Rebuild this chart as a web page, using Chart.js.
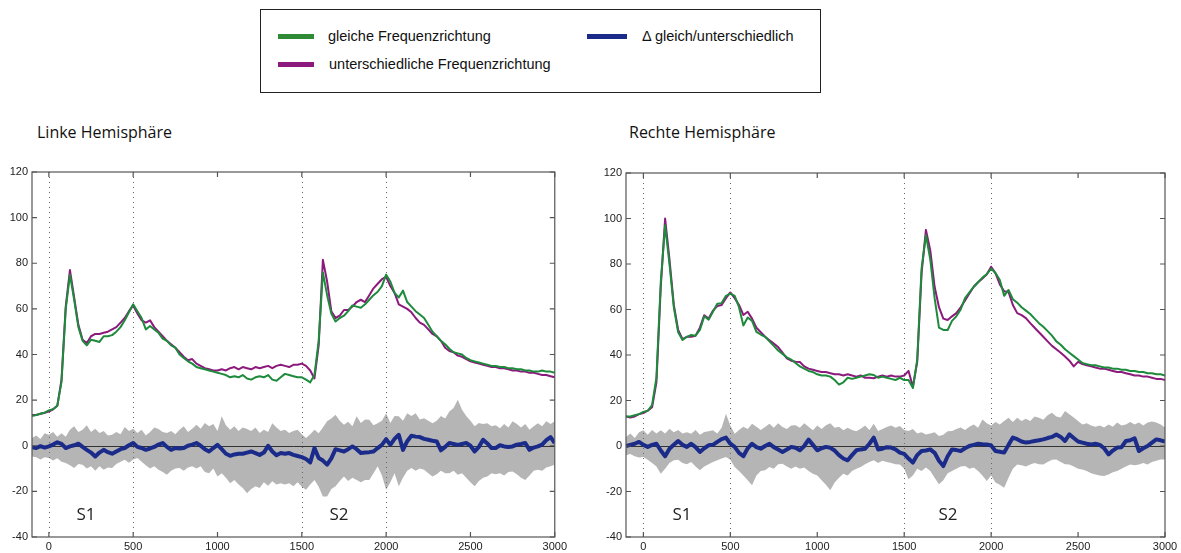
<!DOCTYPE html>
<html>
<head>
<meta charset="utf-8">
<script src="https://cdn.jsdelivr.net/npm/chart.js@4.4.0/dist/chart.umd.min.js"></script>
<style>
  body { margin: 0; background: #fff; width: 1181px; height: 553px; position: relative; overflow: hidden;
         font-family: "Liberation Sans", Arial, sans-serif; }
  #legend { position: absolute; left: 260px; top: 9px; width: 559px; height: 82px; border: 1.5px solid #222; }
  #legend .swatch { position: absolute; height: 4.5px; }
  #legend .label { position: absolute; font-size: 14.5px; line-height: 18px; color: #111; white-space: nowrap; }
  .title { position: absolute; top: 124px; font-family: "Open Sans", sans-serif; font-size: 16px; line-height: 16px; color: #111; }
  canvas { position: absolute; top: 160px; }
</style>
</head>
<body>
<div id="legend">
  <div class="swatch" style="left:17px; top:24px; width:36px; background:#2f8a35"></div>
  <div class="label" style="left:67px; top:17px">gleiche Frequenzrichtung</div>
  <div class="swatch" style="left:17px; top:52px; width:36px; background:#8c1a7c"></div>
  <div class="label" style="left:68px; top:45px">unterschiedliche Frequenzrichtung</div>
  <div class="swatch" style="left:326px; top:24px; width:40px; background:#1a2b8a"></div>
  <div class="label" style="left:381px; top:17px">Δ gleich/unterschiedlich</div>
</div>
<div class="title" style="left:37px">Linke Hemisphäre</div>
<div class="title" style="left:629px">Rechte Hemisphäre</div>
<canvas id="left" width="570" height="393" style="left:0px"></canvas>
<canvas id="right" width="591" height="393" style="left:590px"></canvas>
<script>
// sampling grid in ms (25 ms steps from -100 to 3000)
const times = [];
for (let t = -100; t <= 3000; t += 25) times.push(t);

const xTicks = [0, 500, 1000, 1500, 2000, 2500, 3000];
const yTicks = [-40, -20, 0, 20, 40, 60, 80, 100, 120];
const markerLines = [0, 500, 1500, 2000];
const stimNames = ['S1', 'S2'];
const leftStimX = [220, 1720];
const rightStimX = [222, 1752];
const stimY = -30.5;

// linke Hemisphäre
const leftSame = [
  13, 13.5, 14, 14.5, 15.5, 16, 17.5, 28, 60, 75,
  64, 52, 46, 44, 46.5, 46, 45.5, 48, 48, 48.5,
  50, 52, 55, 58.5, 62, 59, 56, 51, 52.5, 51,
  49.5, 47, 46, 44, 43, 40, 38.5, 37, 36, 34.5,
  34, 33.5, 33, 32.5, 32, 31.5, 31, 30, 30.5, 30,
  31, 29.5, 29, 30, 30.5, 30, 31, 29, 28.5, 30,
  31.5, 31, 30.5, 30, 30, 29, 27.8, 31, 46, 76,
  66, 58, 54.5, 56, 57, 59, 61.5, 61, 60.5, 62,
  64, 66, 67.5, 70, 75, 72, 67, 65, 68, 63,
  61, 59, 57.5, 56, 53, 50, 48, 46, 44.5, 42.5,
  41, 40.5, 40, 38.5, 37.5, 37, 36.5, 36, 35.5, 35,
  35, 34.5, 34.5, 34, 34, 33.5, 33.5, 33, 33, 32.5,
  32.5, 33, 32.5, 32.5, 32
];
const leftDiff = [
  13.5, 13.5, 14, 14.5, 15, 16, 17.5, 29, 61, 77,
  65, 53, 46.5, 45, 48, 49, 49, 49.5, 50, 51,
  52, 54, 56, 59, 61.5, 58, 55, 54, 55, 52,
  50, 48, 46, 44.5, 43, 41, 39, 37.5, 38, 36,
  35, 34, 33.5, 33, 33, 33.5, 33, 34, 34.5, 33.5,
  34.5, 34, 33.5, 34.5, 34, 34.5, 35, 34, 35, 35.5,
  35, 34.5, 35.5, 35.5, 36, 35, 33, 29.5, 44, 81.5,
  72, 59, 56, 57, 59.5, 59.5, 61, 63, 64, 63,
  66, 69, 71, 73, 74, 70, 67, 62, 61, 60,
  58.5, 56, 54, 53, 51, 49, 48, 46, 43, 41.5,
  41, 39.5, 39, 38, 37, 36.5, 36, 35.5, 35, 34.5,
  34.5, 34, 34, 33.5, 33, 33, 32.5, 32.5, 32, 32,
  31.5, 31, 31, 30.5, 30
];
const leftDelta = [
  -0.7, -1, -0.2, -0.8, -0.3, 0.5, 1.5, 0.8, -1, -0.3,
  0.2, 0.9, -0.5, -1.8, -3, -4.7, -3, -1.8, -2.8, -3.5,
  -2.5, -1.5, -1, 0.2, 1.2, -0.5, -1, -1.8, -1.2, -0.5,
  0.5, 1.2, -0.5, -1.8, -1, -1.2, -1, 0, 0.5, 1.2,
  0, -1.5, -2.5, -1, 0.4, -1.5, -3.5, -4.4, -3.8, -3.5,
  -3.5, -3, -2.5, -3.2, -4, -3, 0, -2.5, -4.2, -3.2,
  -3.5, -3.2, -4, -4.5, -5, -5.8, -7.3, -1, -5.4, -6.5,
  -8.3, -5.5, -1.5, -2, -2.5, -1.5, -0.3, -1.5, -3.2, -3,
  -2.8, -2.5, -1, 0.4, 2.9, 0.4, 3, 4.8, -1.8, 2,
  4.4, 4, 3.8, 3, 2.6, 2.2, 1.9, -2, -0.5, 1.2,
  0.8, 0.4, 0.8, 1.2, 0, -2.5, -0.5, 2.6, 1, -1,
  -1, 0.2, -0.3, -0.5, -0.3, 0.5, 0.8, 1.2, -1.8, -0.8,
  -0.3, 0.5, 2.5, 3.8, 1.2
];
const leftUpper = [
  3.4, 4.5, 3, 5.5, 4.8, 6, 4, 5.5, 4, 7,
  8.5, 6, 7, 9, 6, 7.5, 5.6, 6.5, 4.5, 4.8,
  6, 5, 8.2, 6.5, 7.5, 5.6, 7, 4.5, 6, 8,
  7.3, 6, 5.6, 6.5, 5, 7, 8.5, 6, 7.5, 9.2,
  7.5, 10, 8.5, 9.5, 6.5, 12.9, 9, 7, 8.5, 6.5,
  8, 7.3, 6.5, 8, 5.6, 7, 6, 9.9, 8, 6.5,
  7, 5.6, 6.5, 7, 5, 3.4, 5, 7, 5.5, 8,
  10.7, 12, 13.6, 11, 9.2, 10.5, 8.5, 12.9, 10, 11.5,
  11.4, 9, 9.9, 11, 14.3, 10, 13, 12.9, 11, 14.3,
  13, 14.3, 11.5, 12.1, 11, 9.9, 11, 13, 12, 15,
  16.5, 20.2, 15.8, 13, 11, 8.5, 10, 9.5, 9.9, 8.5,
  9, 7.7, 9.5, 8, 10.7, 9.5, 8, 9.5, 7, 8.5,
  9.9, 8.5, 10.7, 9.5, 10.7
];
const leftLower = [
  -4.7, -5, -6, -5, -5.4, -6.5, -5.5, -7, -7.6, -8.5,
  -9.8, -8, -8.3, -10, -9, -11, -9, -10.5, -9.5, -9.8,
  -8, -7, -6.1, -7.5, -6, -5.4, -7, -8.5, -10, -9,
  -10.5, -11.5, -12.7, -11, -10, -9.8, -11, -9.5, -9, -10,
  -9, -11.5, -12, -10, -13.5, -12, -14, -16.4, -15, -17,
  -18.5, -20.8, -19, -17.8, -18.5, -16, -17.5, -15.6, -17, -16.4,
  -17, -16.4, -17.8, -16, -18, -19.3, -17, -15, -18, -22.2,
  -22.2, -19, -17.8, -15.5, -13.5, -15.5, -14, -15, -16, -15,
  -15, -12, -9, -13, -19.3, -16, -12, -17.8, -14, -11,
  -9.8, -11, -10, -10.5, -12, -13.5, -12.5, -11, -12, -12,
  -11, -12.7, -12, -14, -16, -17.8, -15.5, -14, -13.5, -12,
  -12.5, -12, -13, -11.5, -11.3, -12.5, -14, -15, -13, -11,
  -10.5, -11, -9.5, -9, -8.3
];

// rechte Hemisphäre
const rightSame = [
  13, 13, 13.5, 14, 15, 15.5, 18, 30, 72, 97,
  80, 61, 50, 46.6, 48, 48.8, 48.5, 51, 57, 55.5,
  59, 62.5, 62.8, 66, 67, 66, 61, 53, 56.5, 55,
  50.2, 49, 48, 46, 44, 42, 40.5, 39, 38, 36.5,
  35, 34, 33, 32.5, 31.5, 31, 31, 30.5, 29, 27,
  28, 30, 29.5, 30, 30.5, 31, 31.5, 31.2, 30, 30.5,
  30, 29.5, 29, 30, 29, 29, 25.5, 38, 78, 92.7,
  82, 65, 52, 51, 51, 55, 57, 60, 65, 67.5,
  70, 72, 74, 75.5, 78, 76, 73, 66, 68.6, 64.5,
  63, 61, 59.5, 58, 56, 54, 52.4, 50.5, 48.5, 46,
  44.5, 42.5, 41, 39.5, 38, 36.5, 36, 35.5, 35.5, 35,
  34.5, 34.5, 34, 34, 33.5, 33.5, 33, 33, 32.5, 32.5,
  32, 32, 31.5, 31.5, 31
];
const rightDiff = [
  13, 12.5, 13, 14, 14.5, 15.5, 17, 28, 70, 100,
  82, 62, 51, 47, 48, 48, 48.5, 52, 57.5, 56,
  59.5, 61.5, 62, 65, 67.5, 65, 62, 57.6, 59, 56,
  52, 50, 48, 46.5, 45, 43.5, 41, 38.5, 37.5, 37,
  36.9, 35, 34, 33.5, 33, 32.5, 32.5, 32, 31.5, 31.5,
  31, 31.5, 31, 30.5, 31, 30, 30, 29.8, 30.5, 31,
  30.5, 31, 30.5, 30.5, 31, 33, 26, 37, 76, 95,
  86, 70, 61, 56, 55.4, 57, 58.4, 61, 64, 67,
  70, 72, 73.6, 75.5, 78.8, 76, 71, 68, 67.7, 62,
  58.4, 57.5, 56.2, 54, 52, 50, 48, 46, 44, 42.5,
  41, 39.3, 37.5, 35, 37, 36, 35.5, 35, 34.5, 34,
  34, 33.5, 33, 32.5, 32.5, 32, 31.5, 31, 31, 30.5,
  30.5, 30, 29.5, 29.5, 29
];
const rightDelta = [
  0, 0.5, 1, 1.8, 0.5, -0.4, 0.5, 1, -2, -4.5,
  -1.2, 0.5, 2.2, 0.5, -0.4, 1, -0.5, -2.6, -1, 0.3,
  0.5, 1.8, 3, 3.7, 1, -0.4, -3, -4.5, -1, 1,
  -0.5, -1.2, 0, 1, -0.5, -1.5, -2.6, -1.5, -0.4, -0.8,
  -1.9, 0, 2.8, 0.5, -1.9, -1, -0.4, -0.8, -2, -4,
  -5.5, -6.3, -4, -1.9, -1.5, -1.2, 1, 3.7, -1.5, -1.2,
  -0.5, -0.7, -1.5, -2.9, -3.5, -5.5, -7.3, -4, -2.2, -2,
  -1.5, -3, -6.5, -8.8, -4.5, -1.5, -1.8, -2.2, -1, 0,
  0.5, 1, 0.8, 0.7, 0.2, -2.2, -2.5, -2.9, 0.5, 3.7,
  3, 2, 1.5, 1.8, 2.2, 2.5, 2.9, 3.5, 4, 5.1,
  4, 2.2, 5.1, 3.5, 2, 1.5, 1, 0.7, 1, 0.5,
  -1, -3.7, -2, -0.7, -0.5, 2.2, 2.5, 3.4, -2.2, -1,
  0, 1.5, 2.9, 2.5, 1.9
];
const rightUpper = [
  4, 5.5, 3.5, 6, 6.9, 5, 7, 5.5, 6.9, 5.5,
  7.6, 6, 7, 5.5, 6, 5.4, 7, 5, 6.1, 6.5,
  6.9, 5.5, 8, 14.2, 9, 5.4, 7, 8.5, 7.5, 9.8,
  8.5, 7, 8.3, 9.8, 8, 10, 8.3, 7.5, 9, 9.1,
  8, 10, 8.5, 6.9, 9, 7.5, 9.1, 10, 8, 8.5,
  6.9, 8, 7, 6.5, 7.6, 9, 7, 9.8, 6.6, 7.5,
  8.3, 9, 8, 8.8, 7, 6.6, 7.5, 5.5, 6, 5.1,
  5.5, 6, 4.4, 5, 6.5, 6.6, 7.5, 8.1, 7, 8.5,
  9.5, 8, 11.7, 10, 9, 10.5, 9.5, 11, 12.4, 10.5,
  12.4, 11, 12, 11, 13, 12.4, 11.5, 13.5, 14.6, 13,
  12.5, 15.4, 14, 12.5, 11, 9.5, 10, 9, 8.5, 9,
  8.1, 9.5, 8.5, 10.3, 9, 9.5, 10.5, 9.5, 10.3, 9,
  10.3, 10.8, 10.3, 9.5, 8.1
];
const rightLower = [
  -4.1, -3.5, -4.5, -5, -4.8, -6, -7.5, -9, -12.2, -10,
  -7.5, -6.3, -6, -7.5, -8, -7, -9, -10.7, -9, -8,
  -7, -6.3, -5.5, -4.8, -6, -9.2, -11, -13, -15, -17.3,
  -13, -11, -10.7, -9.2, -10, -8, -7.8, -9, -10, -9,
  -10, -9.5, -11, -12.2, -13, -15, -17, -19.5, -16, -14,
  -12.2, -13, -11, -10, -9.2, -8, -7, -6.3, -7.5, -6.5,
  -7, -7.5, -8, -8.1, -10, -14.6, -13, -10, -11, -9.5,
  -11, -14, -16.8, -15, -12, -11, -10, -9, -8.8, -10,
  -9.5, -11, -13, -15.4, -13, -16, -17, -18.3, -14, -10,
  -8.1, -8.5, -9, -8.1, -7.5, -8, -8.1, -7, -6, -5.9,
  -7, -8, -8.1, -9, -10, -10.3, -11, -12, -12.5, -13,
  -13.2, -12.5, -11.5, -11, -10, -9, -8.1, -8.5, -8.1, -7.5,
  -8.1, -7, -6.5, -5.9, -5.9
];

const GREEN = '#1d8a3c';
const PURPLE = '#8c1a7c';
const BLUE = '#1a2b8a';
const BAND = '#b5b5b5';
const TICK_FONT = { family: '"Liberation Sans", Arial, sans-serif', size: 11 };

// frame, inward tick marks, zero line, event markers and stimulus labels
const framePlugin = {
  id: 'frame',
  afterDatasetDraw(chart, args) {
    if (args.index !== 3) return; // right after the gray band
    const { ctx, chartArea: a, scales: { x, y } } = chart;
    ctx.save();
    const y0 = Math.round(y.getPixelForValue(0)) + 0.5;
    ctx.strokeStyle = '#333';
    ctx.lineWidth = 1;
    ctx.beginPath();
    ctx.moveTo(a.left, y0);
    ctx.lineTo(a.right, y0);
    ctx.stroke();
    ctx.strokeStyle = '#666';
    ctx.setLineDash([1, 4]);
    markerLines.forEach(v => {
      const px = Math.round(x.getPixelForValue(v)) + 0.5;
      ctx.beginPath();
      ctx.moveTo(px, a.top);
      ctx.lineTo(px, a.bottom);
      ctx.stroke();
    });
    ctx.restore();
  },
  afterDraw(chart, args, opts) {
    const { ctx, chartArea: a, scales: { x, y } } = chart;
    ctx.save();
    ctx.strokeStyle = '#555';
    ctx.lineWidth = 1.2;
    ctx.strokeRect(a.left, a.top, a.right - a.left, a.bottom - a.top);
    ctx.beginPath();
    xTicks.forEach(v => {
      const px = x.getPixelForValue(v);
      ctx.moveTo(px, a.top); ctx.lineTo(px, a.top + 5);
      ctx.moveTo(px, a.bottom); ctx.lineTo(px, a.bottom - 5);
    });
    yTicks.forEach(v => {
      const py = y.getPixelForValue(v);
      ctx.moveTo(a.left, py); ctx.lineTo(a.left + 5, py);
      ctx.moveTo(a.right, py); ctx.lineTo(a.right - 5, py);
    });
    ctx.stroke();
    ctx.fillStyle = '#222';
    ctx.font = '17px "Open Sans", sans-serif';
    ctx.textAlign = 'center';
    ctx.textBaseline = 'middle';
    stimNames.forEach((s, i) => {
      ctx.fillText(s, x.getPixelForValue(opts.stimX[i]), y.getPixelForValue(stimY));
    });
    ctx.restore();
  }
};

function makeChart(id, series, stimX, axisWidth, pad) {
  const pts = ys => ys.map((v, i) => ({ x: times[i], y: v }));
  return new Chart(document.getElementById(id), {
    type: 'line',
    data: {
      datasets: [
        { label: 'Δ gleich/unterschiedlich', data: pts(series.delta), borderColor: BLUE, borderWidth: 4, order: 0 },
        { label: 'gleiche Frequenzrichtung', data: pts(series.same), borderColor: GREEN, borderWidth: 2, order: 1 },
        { label: 'unterschiedliche Frequenzrichtung', data: pts(series.diff), borderColor: PURPLE, borderWidth: 2, order: 2 },
        { data: pts(series.upper), borderWidth: 0, backgroundColor: BAND, fill: '+1', order: 3 },
        { data: pts(series.lower), borderWidth: 0, order: 4 }
      ]
    },
    options: {
      responsive: false,
      animation: false,
      devicePixelRatio: 1,
      layout: { padding: pad },
      elements: { point: { radius: 0 }, line: { tension: 0, borderJoinStyle: 'round' } },
      plugins: {
        legend: { display: false },
        tooltip: { enabled: false },
        frame: { stimX: stimX }
      },
      scales: {
        x: {
          type: 'linear', min: -100, max: 3000,
          grid: { display: false, drawTicks: false },
          border: { display: false },
          afterBuildTicks: s => { s.ticks = xTicks.map(v => ({ value: v })); },
          afterFit: s => { s.height = 16; },
          ticks: { padding: 3, color: '#222', font: TICK_FONT, maxRotation: 0, autoSkip: false,
                   callback: v => String(v) }
        },
        y: {
          min: -40, max: 120,
          grid: { display: false, drawTicks: false },
          border: { display: false },
          afterBuildTicks: s => { s.ticks = yTicks.map(v => ({ value: v })); },
          afterFit: s => { s.width = axisWidth; },
          ticks: { padding: 4, color: '#222', font: TICK_FONT, callback: v => String(v) }
        }
      }
    },
    plugins: [framePlugin]
  });
}

makeChart('left',
  { same: leftSame, diff: leftDiff, delta: leftDelta, upper: leftUpper, lower: leftLower },
  leftStimX, 32, { top: 12, right: 12, bottom: 0, left: 0 });
makeChart('right',
  { same: rightSame, diff: rightDiff, delta: rightDelta, upper: rightUpper, lower: rightLower },
  rightStimX, 36, { top: 13, right: 16, bottom: 0, left: 0 });
</script>
</body>
</html>
